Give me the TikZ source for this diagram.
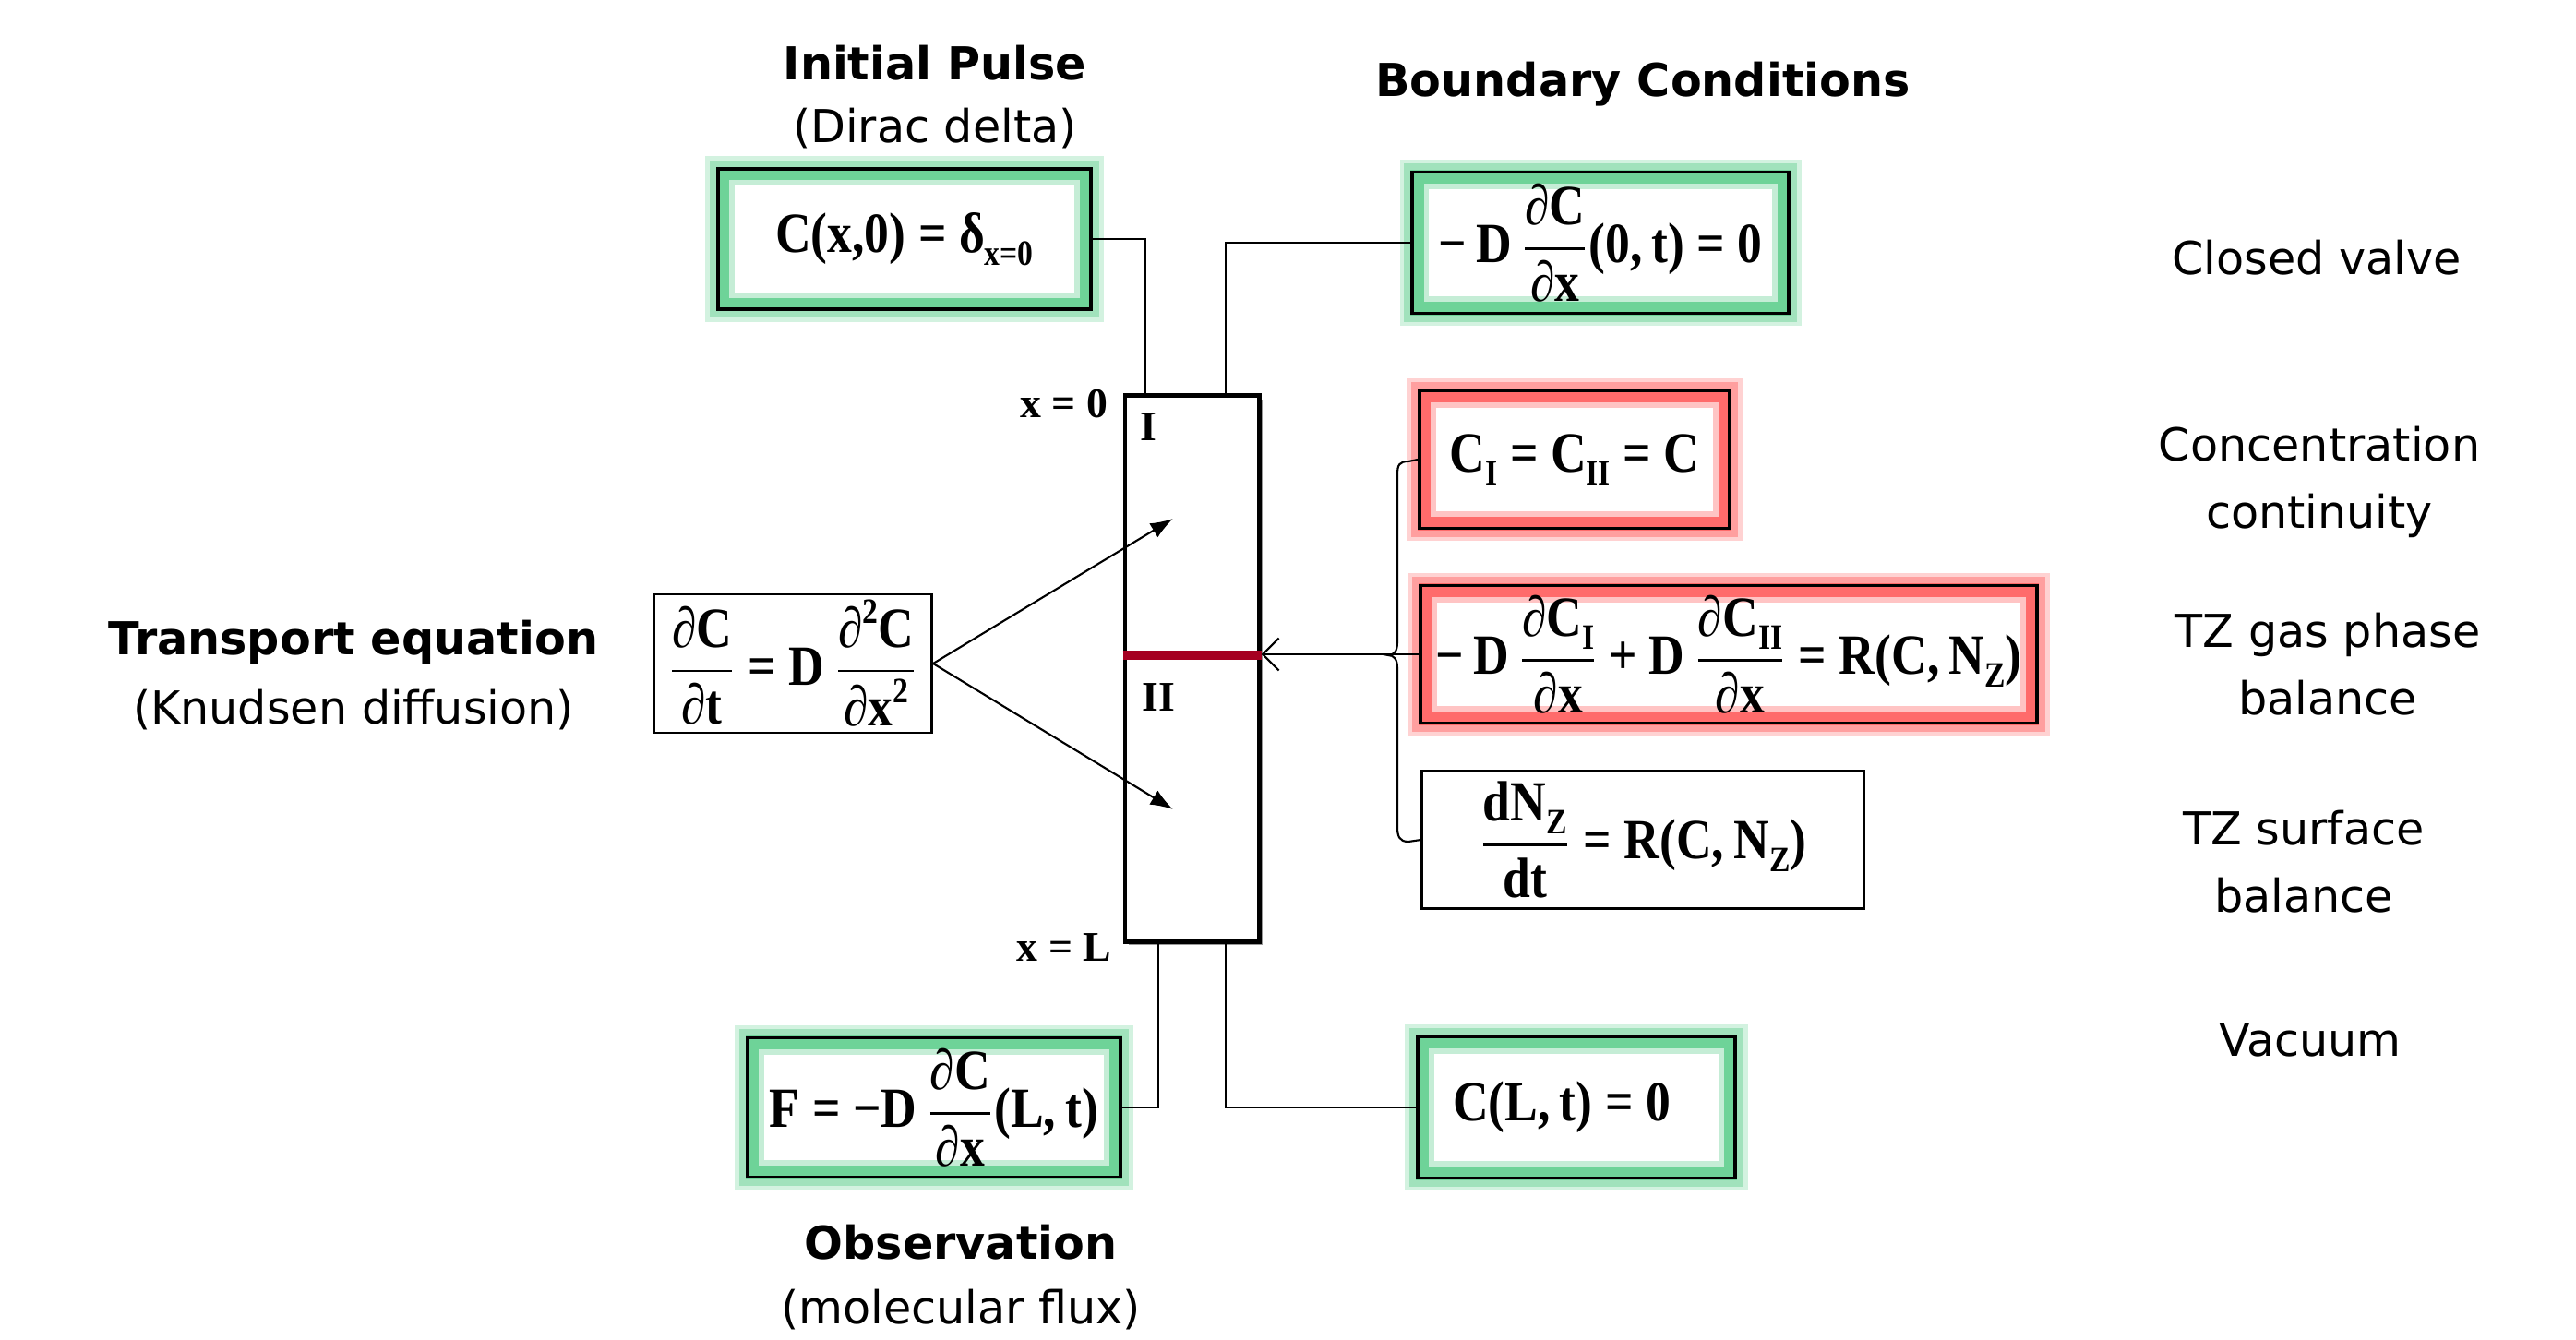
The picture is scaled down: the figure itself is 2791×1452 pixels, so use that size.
\documentclass[tikz,border=0pt]{standalone}
\usepackage{fontspec}
\usepackage{amsmath}
\usetikzlibrary{arrows.meta,shadows,calc,backgrounds}
\newfontfamily\labf{DejaVu Sans}
\newfontfamily\eqf[FakeStretch=0.87]{Liberation Serif}
\newfontfamily\smf{Liberation Serif}
\definecolor{glowG}{RGB}{110,211,152}
\definecolor{glowR}{RGB}{255,107,107}
\definecolor{zred}{RGB}{165,0,33}
\newcommand{\pd}{{\mdseries ∂}}
\newcommand{\fr}[2]{$\genfrac{}{}{0.7pt}{0}{\text{#1}}{\text{#2}}$}
\newcommand{\lo}[1]{\raisebox{-0.5ex}{\fontsize{11}{11}\selectfont #1}}
\newcommand{\hi}[1]{\raisebox{0.9ex}{\fontsize{11}{11}\selectfont #1}}
\newcommand{\eqs}{\hspace{0.22em}=\hspace{0.22em}}
\newcommand{\glowbox}[2]{%
  \draw[#2, line width=6.8pt, opacity=0.3] (#1.south west) rectangle (#1.north east);
  \draw[#2, line width=4pt, opacity=0.5] (#1.south west) rectangle (#1.north east);
  \draw[#2, line width=5.7pt, opacity=0.4] ([shift={(10,-10)}]#1.south west) rectangle ([shift={(-10,10)}]#1.north east);
  \draw[#2, line width=4pt] ([shift={(7,-7)}]#1.south west) rectangle ([shift={(-7,7)}]#1.north east);
}
\begin{document}
\begin{tikzpicture}[x=0.01cm,y=-0.01cm,
  lab/.style={font=\labf\fontsize{14}{20.8}\selectfont, align=center, inner sep=0},
  ttl/.style={font=\labf\bfseries\fontsize{14}{20.8}\selectfont, align=center, inner sep=0},
  eqn/.style={font=\eqf\bfseries\fontsize{17.5}{21}\selectfont, inner sep=0, align=center},
  small/.style={font=\smf\bfseries\fontsize{13}{15}\selectfont, inner sep=0},
  plainbox/.style={eqn, draw=black, line width=0.8pt},
  gbox/.style={eqn, draw=black, line width=1.1pt},
  rbox/.style={eqn, draw=black, line width=1.1pt},
  conn/.style={draw=black, line width=0.6pt},
  reactor/.style={draw=black, line width=1.4pt, fill=white,
     drop shadow={shadow xshift=1.2pt, shadow yshift=-1.2pt, fill=black!40, opacity=1}}
]
\useasboundingbox (0,0) rectangle (2791,1452);

% titles and labels
\node[ttl] (tip) at (1013,68) {Initial Pulse};
\node[lab] (tipb) at (1013,139) {(Dirac delta)};
\node[ttl] (tbc) at (1780,91) {Boundary Conditions};
\node[ttl] (ttr) at (383,696) {Transport equation};
\node[lab] (ttrb) at (383,769) {(Knudsen diffusion)};
\node[ttl] (tob) at (1041,1346) {Observation};
\node[lab] (tobb) at (1041,1419) {(molecular flux)};
\node[lab] (lcv) at (2510,279) {Closed valve};
\node[lab] (lcc) at (2513,522) {Concentration\\continuity};
\node[lab] (lgp) at (2522,720) {TZ gas phase\\balance};
\node[lab] (lsb) at (2496,934) {TZ surface\\balance};
\node[lab] (lvac) at (2503,1127) {Vacuum};

% reactor
\node[reactor, minimum width=1.45cm, minimum height=5.91cm] (R) at (1291.5,724.5) {};
\draw[draw=zred, line width=2.6pt] (R.west |- 0,710) -- (R.east |- 0,710);
\node[small] (x0) at (1153,438) {x = 0};
\node[small] (xL) at (1153,1027) {x = L};
\node[small] (zI) at (1244,463) {I};
\node[small] (zII) at (1255,756) {II};

% equation boxes
\node[gbox, minimum width=4.04cm, minimum height=1.52cm] (init) at (980,259)
  {C(x,0)\eqs δ\lo{x=0}};
\node[gbox, minimum width=4.07cm, minimum height=1.53cm] (cv) at (1734,263)
  {−\,D\,\fr{\pd C}{\pd x}(0,\,t)\eqs 0};
\node[rbox, minimum width=3.36cm, minimum height=1.49cm] (conc) at (1706,498)
  {C\lo{I}\eqs C\lo{II}\eqs C};
\node[rbox, minimum width=6.67cm, minimum height=1.49cm] (gas) at (1873,709)
  {−\,D\,\fr{\pd C\lo{I}}{\pd x}\hspace{0.2em}+\hspace{0.2em}D\,\fr{\pd C\lo{II}}{\pd x}\eqs R(C,\,N\lo{Z})};
\node[plainbox, minimum width=4.78cm, minimum height=1.49cm] (surf) at (1780,910)
  {\fr{dN\lo{Z}}{dt}\eqs R(C,\,N\lo{Z})};
\node[plainbox, minimum width=3.01cm, minimum height=1.50cm] (trans) at (859,719)
  {\fr{\pd C}{\pd t}\eqs D\,\fr{\pd\hi{2}C}{\pd x\hi{2}}};
\node[gbox, minimum width=4.04cm, minimum height=1.51cm] (obs) at (1012,1200)
  {F\eqs −D\,\fr{\pd C}{\pd x}(L,\,t)};
\node[gbox, minimum width=3.44cm, minimum height=1.53cm] (vac) at (1708,1200)
  {\hspace{-0.32cm}C(L,\,t)\eqs 0};

% glows behind the boxes
\begin{scope}[on background layer]
  \glowbox{init}{glowG}
  \glowbox{cv}{glowG}
  \glowbox{obs}{glowG}
  \glowbox{vac}{glowG}
  \glowbox{conc}{glowR}
  \glowbox{gas}{glowR}
\end{scope}

% connectors
\draw[conn] (init.east) -| (1241,0 |- R.north);
\draw[conn] (cv.west) -| (1328,0 |- R.north);
\draw[conn] (obs.east) -| (1255,0 |- R.south);
\draw[conn] (vac.west) -| (1328,0 |- R.south);

\coordinate (tI) at (1271,562);
\coordinate (tII) at (1271,877);
\draw[conn, -{Latex[length=7pt,width=5pt]}] (trans.east) -- (tI);
\draw[conn, -{Latex[length=7pt,width=5pt]}] (trans.east) -- (tII);

\draw[conn] (conc.west) -- (1526,500) .. controls (1516,500) and (1514,504) .. (1514,514)
  -- (1514,696) .. controls (1514,706) and (1510,710) .. (1504,710)
  .. controls (1510,710) and (1514,714) .. (1514,724)
  -- (1514,896) .. controls (1514,906) and (1516,912) .. (1526,912) -- (surf.west);
\draw[conn, -{Straight Barb[length=5pt,width=10pt]}] (gas.west) -- (gas.west -| R.east);
\end{tikzpicture}
\end{document}
